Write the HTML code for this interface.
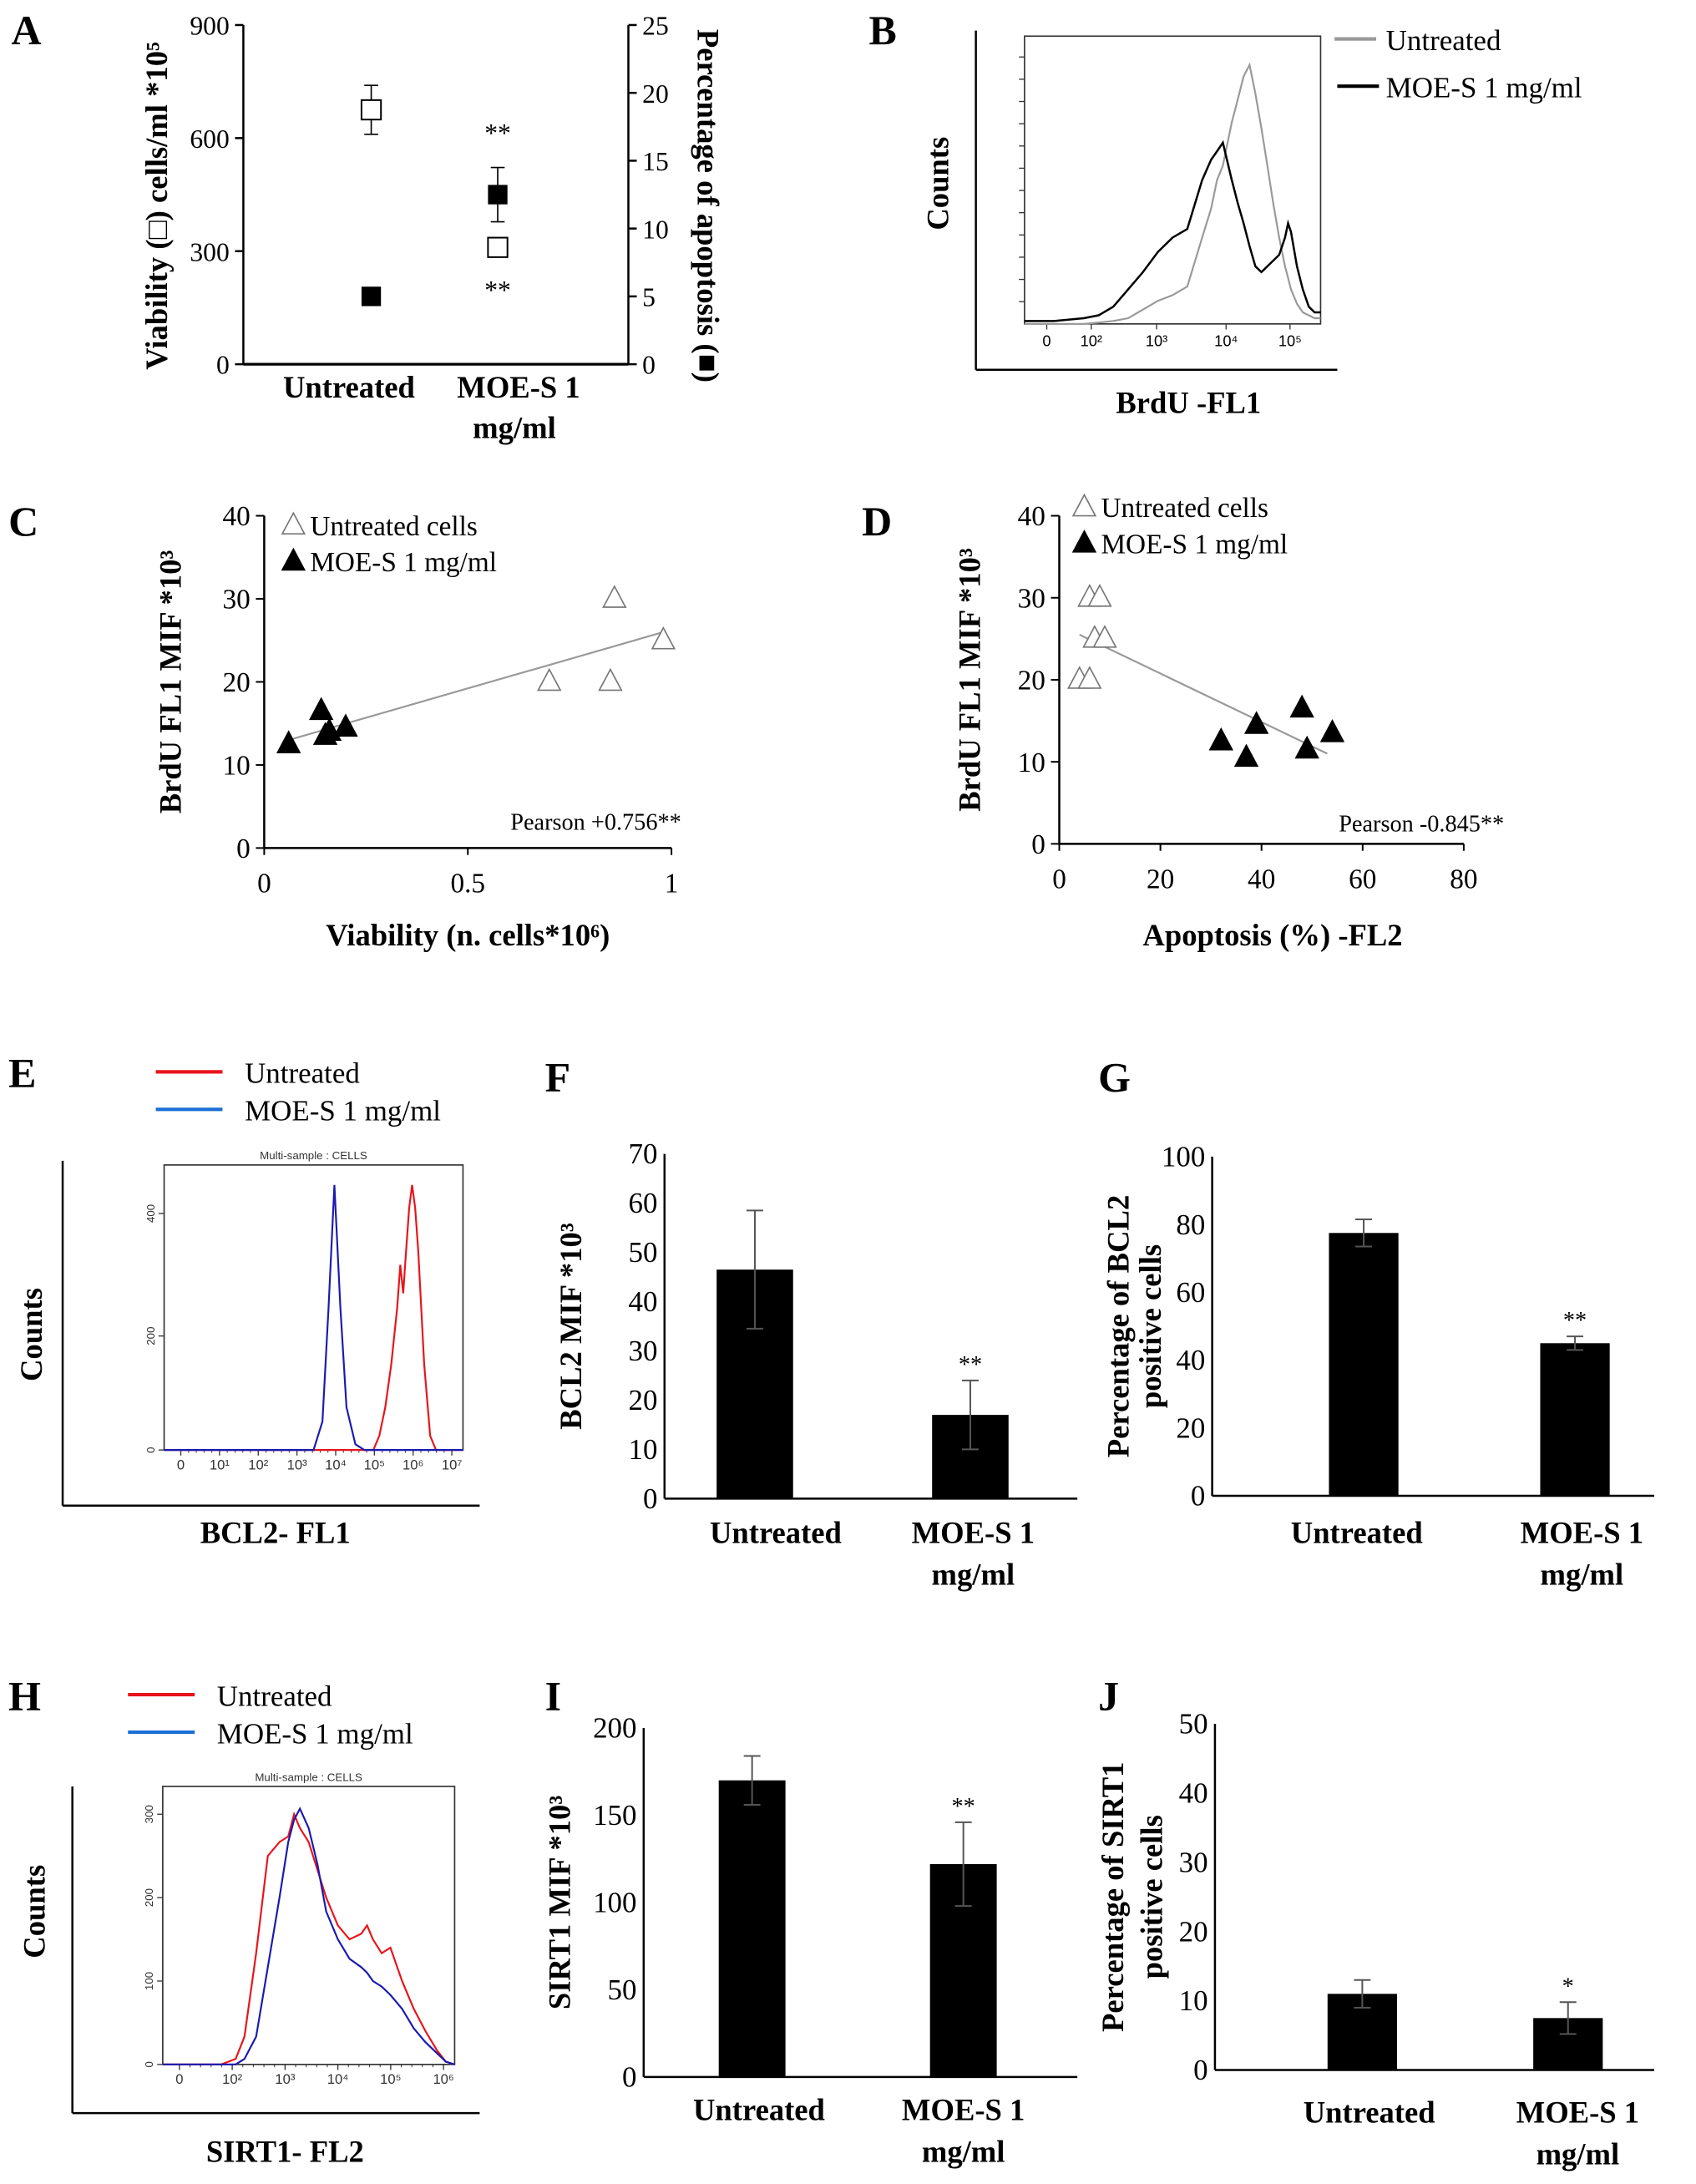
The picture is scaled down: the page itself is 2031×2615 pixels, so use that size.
<!DOCTYPE html>
<html><head><meta charset="utf-8"><style>
html,body{margin:0;padding:0;background:#fff}
svg{display:block}
text{font-family:"Liberation Serif",serif;fill:#000}
.b{font-weight:bold;font-size:22px}
.t{font-size:19px}
.L{font-weight:bold;font-size:30px}
.s{font-family:"Liberation Sans",sans-serif;font-size:8px;fill:#333}
</style></head><body>
<svg id="fig" width="2031" height="2615" viewBox="0 0 1220 1571" xmlns="http://www.w3.org/2000/svg">
<g id="static">
<text class="L" x="8" y="32">A</text>
<text class="L" x="625" y="32">B</text>
<text class="L" x="6" y="385">C</text>
<text class="L" x="620" y="385">D</text>
<text class="L" x="6" y="782">E</text>
<text class="L" x="392" y="785">F</text>
<text class="L" x="790" y="785">G</text>
<text class="L" x="6" y="1230">H</text>
<text class="L" x="392" y="1230">I</text>
<text class="L" x="790" y="1230">J</text>
</g>
</svg>
<script>
const NS="http://www.w3.org/2000/svg";
const svg=document.getElementById('fig');
function el(tag,attrs,parent,txt){const e=document.createElementNS(NS,tag);for(const k in attrs)e.setAttribute(k,attrs[k]);if(txt!==undefined)e.textContent=txt;(parent||svg).appendChild(e);return e;}
function line(x1,y1,x2,y2,stroke,w,p){return el('line',{x1,y1,x2,y2,stroke:stroke||'#000','stroke-width':w||1.5},p);}
function txt(x,y,s,cls,anchor,p,extra){const a={x,y,class:cls||'t','text-anchor':anchor||'middle'};Object.assign(a,extra||{});return el('text',a,p,s);}

/* ===== Panel A data ===== */
const aCats=['Untreated','MOE-S 1'];
const aViab=[675,310];
const aViabErr=[65,15];
const aApop=[5,12.5];
const aApopErr=[0.4,2];
const aLeftTicks=[0,300,600,900];
const aRightTicks=[0,5,10,15,20,25];
/* ===== Panel C data ===== */
const cUntrX=[0.86,0.98,0.70,0.85];
const cUntrY=[30,25,20,20];
const cMoeX=[0.06,0.14,0.15,0.16,0.20];
const cMoeY=[12.5,16.5,13.5,14,14.5];
const cFitX=[0.06,0.98];
const cFitY=[13,26];
const cXTicks=[0,0.5,1];
const cYTicks=[0,10,20,30,40];
/* ===== Panel D data ===== */
const dUntrX=[6,8,7,9,4,6];
const dUntrY=[30,30,25,25,20,20];
const dMoeX=[32,37,39,48,49,54];
const dMoeY=[12.5,10.5,14.5,16.5,11.5,13.5];
const dFitX=[4,53];
const dFitY=[25.5,11];
const dXTicks=[0,20,40,60,80];
const dYTicks=[0,10,20,30,40];
/* ===== Bar panels data ===== */
const barCats=['Untreated','MOE-S 1'];
const fVals=[46.5,17]; const fErr=[12,7]; const fTicks=[0,10,20,30,40,50,60,70];
const gVals=[77.5,45]; const gErr=[4,2]; const gTicks=[0,20,40,60,80,100];
const iVals=[170,122]; const iErr=[14,24]; const iTicks=[0,50,100,150,200];
const jVals=[11,7.5]; const jErr=[2,2.3]; const jTicks=[0,10,20,30,40,50];
/* ===== Histogram data (channel 0..100, relative height) ===== */
const bCh=[0,10,20,25,30,35,40,45,50,55,60,63,65,67,70,72,74,76,78,80,82,84,86,88,89,90,92,94,96,98,100];
const bUntr=[0,0,0,0.005,0.01,0.02,0.05,0.08,0.1,0.13,0.3,0.4,0.5,0.55,0.7,0.78,0.86,0.9,0.8,0.68,0.55,0.42,0.3,0.2,0.16,0.12,0.07,0.04,0.03,0.02,0.02];
const bMoe=[0.01,0.01,0.02,0.03,0.06,0.12,0.18,0.25,0.3,0.33,0.5,0.57,0.6,0.63,0.5,0.42,0.35,0.27,0.2,0.18,0.2,0.22,0.24,0.3,0.35,0.32,0.2,0.12,0.06,0.04,0.04];
const eCh=[0,50,53,55,57,59,61,64,67,70,72,74,76,78,79,80,81,82,83,84,85,87,89,91,100];
const eUntr=[0,0,0,0,0,0,0,0,0,0,0.05,0.15,0.3,0.5,0.65,0.55,0.7,0.85,0.93,0.85,0.7,0.3,0.05,0,0];
const eMoe=[0,0,0.1,0.5,0.93,0.5,0.15,0.02,0,0,0,0,0,0,0,0,0,0,0,0,0,0,0,0,0];
const hCh=[0,20,25,28,32,36,40,43,45,47,50,53,56,60,64,68,70,72,75,78,82,86,90,94,97,100];
const hUntr=[0,0,0.02,0.1,0.4,0.75,0.8,0.82,0.9,0.85,0.8,0.7,0.6,0.5,0.45,0.47,0.5,0.45,0.4,0.42,0.3,0.2,0.12,0.05,0.01,0];
const hMoe=[0,0,0,0.02,0.1,0.35,0.6,0.8,0.88,0.92,0.85,0.72,0.55,0.45,0.38,0.35,0.33,0.3,0.28,0.25,0.2,0.13,0.08,0.04,0.01,0];

/* ===== Panel A ===== */
(function(){
 const g=el('g',{},svg);  
 const x0=175,x1=452,yT=18,yB=262;
 const yL=v=>yB-(v/900)*(yB-yT), yR=v=>yB-(v/25)*(yB-yT);
 const xC=i=>[267,358][i];
 line(x0,yT,x0,yB,'#000',1.5,g); line(x1,yT,x1,yB,'#000',1.5,g); line(x0,yB,x1,yB,'#000',2,g);
 aLeftTicks.forEach(t=>{line(x0-6,yL(t),x0,yL(t),'#000',1.5,g);const e=txt(x0-10,yL(t)+7,t,'t','end',g);});
 aRightTicks.forEach(t=>{line(x1,yR(t),x1+6,yR(t),'#000',1.5,g);const e=txt(x1+10,yR(t)+7,t,'t','start',g);});
 aCats.forEach((c,i)=>{
  let v=aViab[i],e=aViabErr[i],x=xC(i);
  line(x,yL(v-e),x,yL(v+e),'#000',1,g); line(x-5,yL(v+e),x+5,yL(v+e),'#000',1,g); line(x-5,yL(v-e),x+5,yL(v-e),'#000',1,g);
  const r=el('rect',{x:x-7,y:yL(v)-7,width:14,height:14,fill:'#fff',stroke:'#000','stroke-width':1.2},g);
   
  v=aApop[i];e=aApopErr[i];
  line(x,yR(v-e),x,yR(v+e),'#000',1,g); line(x-5,yR(v+e),x+5,yR(v+e),'#000',1,g); line(x-5,yR(v-e),x+5,yR(v-e),'#000',1,g);
  const r2=el('rect',{x:x-7,y:yR(v)-7,width:14,height:14,fill:'#000'},g);
   
 });
 txt(358,102,'**','t','middle',g); txt(358,215,'**','t','middle',g);
 txt(251,286,'Untreated','b','middle',g); txt(373,286,'MOE-S 1','b','middle',g); txt(370,315,'mg/ml','b','middle',g);
 const yt=txt(0,0,'Viability (□) cells/ml *10⁵','b','middle',g,{transform:'translate(120,148) rotate(-90)'});
  
 const yt2=txt(0,0,'Percentage of apoptosis (■)','b','middle',g,{transform:'translate(502,148) rotate(90)'});
  
})();

/* ===== Histogram helper ===== */
function hist(g,box,ch,vals,color,w){
 const pts=ch.map((c,i)=>(box.x0+c/100*(box.x1-box.x0)).toFixed(1)+','+(box.y1-vals[i]*(box.y1-box.y0)).toFixed(1)).join(' ');
 return el('polyline',{points:pts,fill:'none',stroke:color,'stroke-width':w||1.3},g);
}

/* ===== Panel B ===== */
(function(){
 const g=el('g',{},svg);  
 const box={x0:737,x1:950,y0:26,y1:233};
 line(702,22,702,266,'#000',1.5,g); line(702,266,962,266,'#000',1.5,g);
 el('rect',{x:box.x0,y:box.y0,width:box.x1-box.x0,height:box.y1-box.y0,fill:'none',stroke:'#333','stroke-width':1},g);
 for(let i=1;i<13;i++){const y=box.y1-i*16;line(box.x0-4,y,box.x0,y,'#333',0.8,g);}
 [['0',753],['10²',785],['10³',832],['10⁴',882],['10⁵',928]].forEach(t=>{line(t[1],box.y1,t[1],box.y1+4,'#333',0.8,g);txt(t[1],box.y1+16,t[0],'t','middle',g,{style:'font-size:11px;font-family:Liberation Sans'});});
 const p1=hist(g,box,bCh,bUntr,'#999',1.3);  
 const p2=hist(g,box,bCh,bMoe,'#000',1.5);  
 line(960,28,990,28,'#999',2.5,g); txt(997,36,'Untreated','t','start',g,{style:'font-size:21px'});
 line(962,62,992,62,'#000',2.5,g); txt(997,70,'MOE-S 1 mg/ml','t','start',g,{style:'font-size:21px'});
 txt(0,0,'Counts','b','middle',g,{transform:'translate(682,132) rotate(-90)'});
 txt(855,297,'BrdU -FL1','b','middle',g);
})();

/* ===== Scatter helper ===== */
function tri(g,x,y,filled,name){
 const p=el('polygon',{points:`${x},${y-9} ${x-8},${y+6} ${x+8},${y+6}`,fill:filled?'#000':'#fff',stroke:filled?'#000':'#777','stroke-width':1},g);
   return p;
}
function scatter(cfg){
 const g=el('g',{},svg);  
 const X=v=>cfg.x0+(v-cfg.xmin)/(cfg.xmax-cfg.xmin)*(cfg.x1-cfg.x0);
 const Y=v=>cfg.yB-(v/40)*(cfg.yB-cfg.yT);
 line(cfg.x0,cfg.yT,cfg.x0,cfg.yB,'#000',1.5,g); line(cfg.x0,cfg.yB,cfg.x1,cfg.yB,'#000',1.5,g);
 cfg.yTicks.forEach(t=>{line(cfg.x0-6,Y(t),cfg.x0,Y(t),'#000',1.2,g);txt(cfg.x0-10,Y(t)+7,t,'t','end',g,{style:'font-size:20px'});});
 cfg.xTicks.forEach(t=>{line(X(t),cfg.yB,X(t),cfg.yB+5,'#000',1.2,g);txt(X(t),cfg.yB+32,t,'t','middle',g,{style:'font-size:20px'});});
 line(X(cfg.fitX[0]),Y(cfg.fitY[0]),X(cfg.fitX[1]),Y(cfg.fitY[1]),'#999',1.3,g);
 cfg.ux.forEach((v,i)=>tri(g,X(v),Y(cfg.uy[i]),false,'untreated-point'));
 cfg.mx.forEach((v,i)=>tri(g,X(v),Y(cfg.my[i]),true,'moe-point'));
 tri(g,cfg.lx,cfg.ly,false,'legend-untreated-marker'); txt(cfg.lx+12,cfg.ly+7,'Untreated cells','t','start',g,{style:'font-size:20px'});
 tri(g,cfg.lx,cfg.ly+26,true,'legend-moe-marker'); txt(cfg.lx+12,cfg.ly+33,'MOE-S 1 mg/ml','t','start',g,{style:'font-size:20px'});
 txt(cfg.px,cfg.py,cfg.pearson,'t','end',g,{style:'font-size:17px'});
 txt(0,0,'BrdU FL1 MIF *10³','b','middle',g,{transform:`translate(${cfg.ytx},${(cfg.yT+cfg.yB)/2}) rotate(-90)`});
 txt((cfg.x0+cfg.x1)/2+cfg.xtOff,680,cfg.xtitle,'b','middle',g);
}
scatter({name:'panel-c-scatter',x0:190,x1:483,xmin:0,xmax:1,yT:371,yB:610,yTicks:cYTicks,xTicks:cXTicks,fitX:cFitX,fitY:cFitY,ux:cUntrX,uy:cUntrY,mx:cMoeX,my:cMoeY,lx:211,ly:378,px:490,py:597,pearson:'Pearson +0.756**',ytx:130,xtitle:'Viability (n. cells*10⁶)',xtOff:0});
scatter({name:'panel-d-scatter',x0:762,x1:1053,xmin:0,xmax:80,yT:371,yB:607,yTicks:dYTicks,xTicks:dXTicks,fitX:dFitX,fitY:dFitY,ux:dUntrX,uy:dUntrY,mx:dMoeX,my:dMoeY,lx:780,ly:365,px:1082,py:598,pearson:'Pearson -0.845**',ytx:705,xtitle:'Apoptosis (%) -FL2',xtOff:8});

/* ===== Flow histogram panels E,H ===== */
function flow(cfg){
 const g=el('g',{},svg);  
 const b=cfg.box;
 line(cfg.ax,cfg.ay0,cfg.ax,cfg.ay1,'#000',1.5,g); line(cfg.ax,cfg.ay1,cfg.ax1,cfg.ay1,'#000',1.5,g);
 el('rect',{x:b.x0,y:b.y0,width:b.x1-b.x0,height:b.y1-b.y0,fill:'none',stroke:'#333','stroke-width':1},g);
 txt((b.x0+b.x1)/2,b.y0-4,'Multi-sample : CELLS','s','middle',g);
 cfg.yt.forEach(t=>{const y=b.y1-t[1]*(b.y1-b.y0);line(b.x0-4,y,b.x0,y,'#333',0.8,g);txt(0,0,t[0],'s','middle',g,{transform:`translate(${b.x0-7},${y}) rotate(-90)`});});
 cfg.xt.forEach((t,i)=>{const x=b.x0+12+i*(b.x1-b.x0-20)/(cfg.xt.length-1);line(x,b.y1,x,b.y1+4,'#333',0.8,g);for(let k=1;k<5;k++){if(i<cfg.xt.length-1)line(x+k*(b.x1-b.x0-20)/(cfg.xt.length-1)/5,b.y1,x+k*(b.x1-b.x0-20)/(cfg.xt.length-1)/5,b.y1+2,'#333',0.6,g);}txt(x,b.y1+14,t,'s','middle',g,{style:'font-size:10px'});});
 const p1=hist(g,b,cfg.ch,cfg.u,'#e8141b',1.3);  
 const p2=hist(g,b,cfg.ch,cfg.m,'#1a1ab0',1.3);  
 line(cfg.lx,cfg.ly,cfg.lx+48,cfg.ly,'#e8141b',2.5,g); txt(cfg.lx+64,cfg.ly+8,'Untreated','t','start',g,{style:'font-size:21px'});
 line(cfg.lx,cfg.ly+27,cfg.lx+48,cfg.ly+27,'#1a6fd6',2.5,g); txt(cfg.lx+64,cfg.ly+35,'MOE-S 1 mg/ml','t','start',g,{style:'font-size:21px'});
 txt(0,0,'Counts','b','middle',g,{transform:`translate(${cfg.cx},${cfg.cy}) rotate(-90)`});
 txt(cfg.tx,cfg.ty,cfg.title,'b','middle',g);
}
flow({name:'panel-e-histogram',box:{x0:118,x1:333,y0:838,y1:1043},ax:45,ay0:835,ay1:1083,ax1:345,yt:[['0',0],['200',0.4],['400',0.83]],xt:['0','10¹','10²','10³','10⁴','10⁵','10⁶','10⁷'],ch:eCh,u:eUntr,m:eMoe,lx:112,ly:771,cx:30,cy:960,tx:198,ty:1110,title:'BCL2- FL1'});
flow({name:'panel-h-histogram',box:{x0:117,x1:327,y0:1285,y1:1485},ax:52,ay0:1285,ay1:1520,ax1:345,yt:[['0',0],['100',0.3],['200',0.6],['300',0.9]],xt:['0','10²','10³','10⁴','10⁵','10⁶'],ch:hCh,u:hUntr,m:hMoe,lx:92,ly:1219,cx:32,cy:1375,tx:205,ty:1555,title:'SIRT1- FL2'});

/* ===== Bar panels ===== */
function bars(cfg){
 const g=el('g',{},svg);  
 const Y=v=>cfg.yB-(v/cfg.max)*(cfg.yB-cfg.yT);
 line(cfg.x0,cfg.yT,cfg.x0,cfg.yB,'#000',1.5,g); line(cfg.x0,cfg.yB,cfg.x1,cfg.yB,'#000',1.5,g);
 cfg.ticks.forEach(t=>{txt(cfg.x0-5,Y(t)+7,t,'t','end',g,{style:'font-size:21px'});});
 cfg.vals.forEach((v,i)=>{
  const cx=cfg.cx[i];
  const r=el('rect',{x:cx-cfg.bw/2,y:Y(v),width:cfg.bw,height:cfg.yB-Y(v),fill:'#000'},g);
   
  const e=cfg.err[i];
  line(cx,Y(v-e),cx,Y(v+e),'#555',1.2,g); line(cx-6,Y(v+e),cx+6,Y(v+e),'#555',1.2,g); line(cx-6,Y(v-e),cx+6,Y(v-e),'#555',1.2,g);
 });
 txt(cfg.cx[1],Y(cfg.vals[1]+cfg.err[1])-6,cfg.star,'t','middle',g,{style:'font-size:17px'});
 txt(cfg.lx[0],cfg.ly,barCats[0],'b','middle',g); txt(cfg.lx[1],cfg.ly,barCats[1],'b','middle',g); txt(cfg.lx[1],cfg.ly+30,'mg/ml','b','middle',g);
 cfg.titles.forEach((t,k)=>txt(0,0,t,'b','middle',g,{transform:`translate(${cfg.tx[k]},${(cfg.yT+cfg.yB)/2}) rotate(-90)`}));
}
bars({name:'panel-f-bars',x0:478,x1:775,yT:830,yB:1078,max:70,ticks:fTicks,vals:fVals,err:fErr,cx:[543,698],bw:55,star:'**',lx:[558,700],ly:1110,titles:['BCL2 MIF *10³'],tx:[418]});
bars({name:'panel-g-bars',x0:872,x1:1190,yT:832,yB:1076,max:100,ticks:gTicks,vals:gVals,err:gErr,cx:[981,1133],bw:50,star:'**',lx:[976,1138],ly:1110,titles:['Percentage of BCL2','positive cells'],tx:[812,835]});
bars({name:'panel-i-bars',x0:463,x1:775,yT:1243,yB:1494,max:200,ticks:iTicks,vals:iVals,err:iErr,cx:[541,693],bw:48,star:'**',lx:[546,693],ly:1525,titles:['SIRT1 MIF *10³'],tx:[410]});
bars({name:'panel-j-bars',x0:874,x1:1190,yT:1240,yB:1489,max:50,ticks:jTicks,vals:jVals,err:jErr,cx:[980,1128],bw:50,star:'*',lx:[985,1135],ly:1527,titles:['Percentage of SIRT1','positive cells'],tx:[808,836]});
</script>
</body></html>
